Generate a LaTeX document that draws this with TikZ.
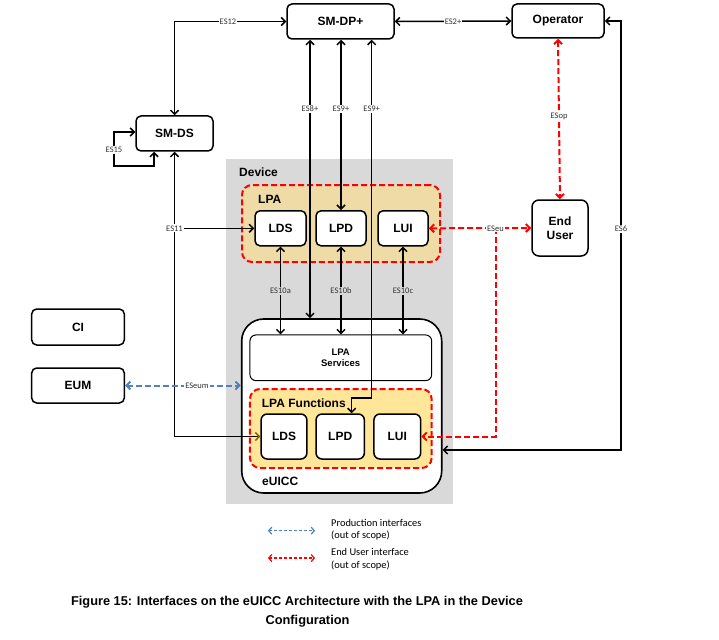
\documentclass[tikz,border=0pt]{standalone}
\usepackage{fontspec}
\setmainfont{Liberation Sans}
\newfontfamily\calfont{Carlito}
\usetikzlibrary{arrows.meta}
\definecolor{devgray}{HTML}{D9D9D9}
\definecolor{lpatan}{HTML}{EEDBA6}
\definecolor{lpafn}{HTML}{FFE699}
\definecolor{eublue}{HTML}{4F81BD}
\definecolor{olivetip}{HTML}{806000}
\begin{document}
\begin{tikzpicture}[x=1pt,y=-1pt,
  >={Straight Barb[length=4pt,width=8pt]},
  bx/.style={draw, line width=1.5pt, rounded corners=5pt, fill=white, align=center, inner sep=0pt,
     font=\bfseries\fontsize{12}{14}\selectfont},
  lbl/.style={font=\calfont\fontsize{8.5}{9}\selectfont, fill=white, inner sep=1.2pt, text=black!80},
  glbl/.style={lbl, fill=devgray},
  dbl/.style={line width=1.5pt, <->},
  sgl/.style={line width=1.5pt, ->},
  reddbl/.style={draw=red, line width=2pt, dash pattern=on 6pt off 3pt, <->},
  redsgl/.style={draw=red, line width=2pt, dash pattern=on 6pt off 3pt, ->},
  bluedbl/.style={draw=eublue, line width=2pt, dash pattern=on 6pt off 3pt, <->},
  redbox/.style={draw=red, line width=2pt, dash pattern=on 6pt off 3pt, rounded corners=10pt},
  ttl/.style={font=\bfseries\fontsize{12}{14}\selectfont, anchor=west, inner sep=0pt},
]
\useasboundingbox (0,0) rectangle (719,639);

% Device background
\node[fill=devgray, minimum width=227pt, minimum height=345pt, inner sep=0pt] (device) at (339.5,331.5) {};
\node[ttl] (devlbl) at (239,172) {Device};

% LPA container
\node[redbox, fill=lpatan, minimum width=198pt, minimum height=77pt, inner sep=0pt] (lpa) at (341,223.5) {};
\node[ttl] (lpalbl) at (258,199) {LPA};
\node[bx, minimum width=51pt, minimum height=35pt] (llds) at (280.5,228.3) {LDS};
\node[bx, minimum width=50pt, minimum height=35pt] (llpd) at (341,228.3) {LPD};
\node[bx, minimum width=50pt, minimum height=35pt] (llui) at (403,228.3) {LUI};

% eUICC
\node[draw, line width=1.6pt, fill=white, rounded corners=22pt, minimum width=200pt, minimum height=174pt, inner sep=0pt] (euicc) at (341.7,406) {};
\node[ttl] (eulbl) at (262,481) {eUICC};
\node[draw, line width=1pt, fill=white, rounded corners=6pt, minimum width=181.7pt, minimum height=45.7pt, inner sep=0pt] (lpasvc) at (340.8,357.8) {};
\node[font=\bfseries\fontsize{9.5}{11}\selectfont, align=center, inner sep=0pt] (svctxt) at (340.7,358) {LPA\\Services};
\node[redbox, fill=lpafn, minimum width=181.7pt, minimum height=79pt, inner sep=0pt] (lpafn) at (340.8,428.5) {};
\node[ttl] (fnlbl) at (261.7,403) {LPA Functions};
\node[bx, rounded corners=6pt, minimum width=45.7pt, minimum height=45pt] (elds) at (284,436.5) {LDS};
\node[bx, rounded corners=6pt, minimum width=48.3pt, minimum height=45pt] (elpd) at (340.2,436.5) {LPD};
\node[bx, rounded corners=6pt, minimum width=46.7pt, minimum height=45pt] (elui) at (397.3,436.5) {LUI};

% External entities
\node[bx, minimum width=107pt, minimum height=35pt] (smdp) at (340.5,21.5) {SM-DP+};
\node[bx, minimum width=92pt, minimum height=34pt] (op) at (558,21) {Operator};
\node[bx, minimum width=77pt, minimum height=35pt] (smds) at (174.5,133.5) {SM-DS};
\node[bx, rounded corners=7pt, minimum width=56pt, minimum height=56pt] (eu) at (560,228) {End\\User};
\node[bx, minimum width=92.6pt, minimum height=36pt] (ci) at (78,327) {CI};
\node[bx, minimum width=92.6pt, minimum height=35pt] (eum) at (78,385.5) {EUM};

% coordinates
\coordinate (x8) at (310,0);
\coordinate (c9b) at (371.7,398);
\coordinate (c9c) at (351.7,398);
\coordinate (c15a) at (114,132);
\coordinate (c15b) at (114,166);
\coordinate (c15c) at (154,166);
\coordinate (c6) at (621,450);
\coordinate (ceu) at (495.5,228.3);
\coordinate (c11) at (174.5,228.3);

% ES12
\draw[dbl] (smds.north) |- (smdp.west);
\node[lbl] (l12) at (228,21.5) {ES12};
% ES2+
\draw[dbl] (smdp.east) -- (op.west);
\node[lbl] (l2) at (453,21.5) {ES2+};
% ES15
\draw[dbl] (smds.south -| c15c) -- (c15c) -- (c15b) -- (c15a) -- (c15a -| smds.west);
\node[lbl] (l15) at (114,150) {ES15};
% ES8+
\draw[dbl] (smdp.south -| x8) -- (euicc.north -| x8);
\node[lbl] (l8) at (310,109) {ES8+};
% ES9+ (LPA)
\draw[dbl] (smdp.south -| llpd.north) -- (llpd.north);
\node[lbl] (l9a) at (341,109) {ES9+};
% ES9+ (eUICC)
\draw[dbl] (smdp.south -| c9b) -- (c9b) -- (c9c) -- (c9c |- elpd.north);
\node[lbl] (l9b) at (371.7,109) {ES9+};
% ES10
\draw[dbl] (llds.south) -- (llds.south |- lpasvc.north);
\node[glbl] (l10a) at (280.5,291) {ES10a};
\draw[dbl] (llpd.south) -- (llpd.south |- lpasvc.north);
\node[glbl] (l10b) at (341,291) {ES10b};
\draw[dbl] (llui.south) -- (llui.south |- lpasvc.north);
\node[glbl] (l10c) at (403,291) {ES10c};
% ES11
\draw[line width=1.5pt, {Straight Barb[length=4pt,width=8pt]}-{Straight Barb[length=4pt,width=8pt,color=olivetip]}] (smds.south) -- (smds.south |- elds.west) -- (elds.west);
\draw[sgl] (c11) -- (llds.west);
\node[lbl] (l11) at (c11) {ES11};
% ES6
\draw[dbl] (op.east) -| (c6) -- (c6 -| euicc.east);
\node[lbl] (l6) at (621,229) {ES6};
% ESop
\draw[reddbl] (op.south) -- (eu.north);
\node[lbl] (lop) at (559,116) {ESop};
% ESeu
\draw[reddbl] (llui.east) -- (eu.west);
\draw[redsgl] (ceu) |- (elui.east);
\node[lbl] (leu) at (ceu) {ESeu};
% ESeum
\draw[bluedbl] (eum.east) -- (eum.east -| euicc.west);
\node[lbl] (leum) at (197,385.5) {ESeum};

% Legend
\coordinate (lg1a) at (268,530.7);
\coordinate (lg1b) at (315,530.7);
\coordinate (lg2a) at (268,558);
\coordinate (lg2b) at (315,558);
\draw[draw=eublue, line width=1.2pt, dash pattern=on 3pt off 2pt, {Straight Barb[length=3pt,width=7pt]}-{Straight Barb[length=3pt,width=7pt]}] (lg1a) -- (lg1b);
\draw[draw=red, line width=1.2pt, dash pattern=on 3pt off 2pt, {Straight Barb[length=3pt,width=7pt]}-{Straight Barb[length=3pt,width=7pt]}] (lg2a) -- (lg2b);
\node[font=\calfont\fontsize{10.4}{12.7}\selectfont, align=left, anchor=west, inner sep=0pt] (lgt1) at (331,529.7) {Production interfaces\\(out of scope)};
\node[font=\calfont\fontsize{10.4}{12.7}\selectfont, align=left, anchor=west, inner sep=0pt] (lgt2) at (331,559) {End User interface\\(out of scope)};

% Caption
\node[font=\bfseries\fontsize{12.8}{15}\selectfont, inner sep=0pt] (cap1) at (297,602) {Figure 15: Interfaces on the eUICC Architecture with the LPA in the Device};
\node[font=\bfseries\fontsize{12.8}{15}\selectfont, inner sep=0pt] (cap2) at (307.5,621) {Configuration};
\end{tikzpicture}
\end{document}
